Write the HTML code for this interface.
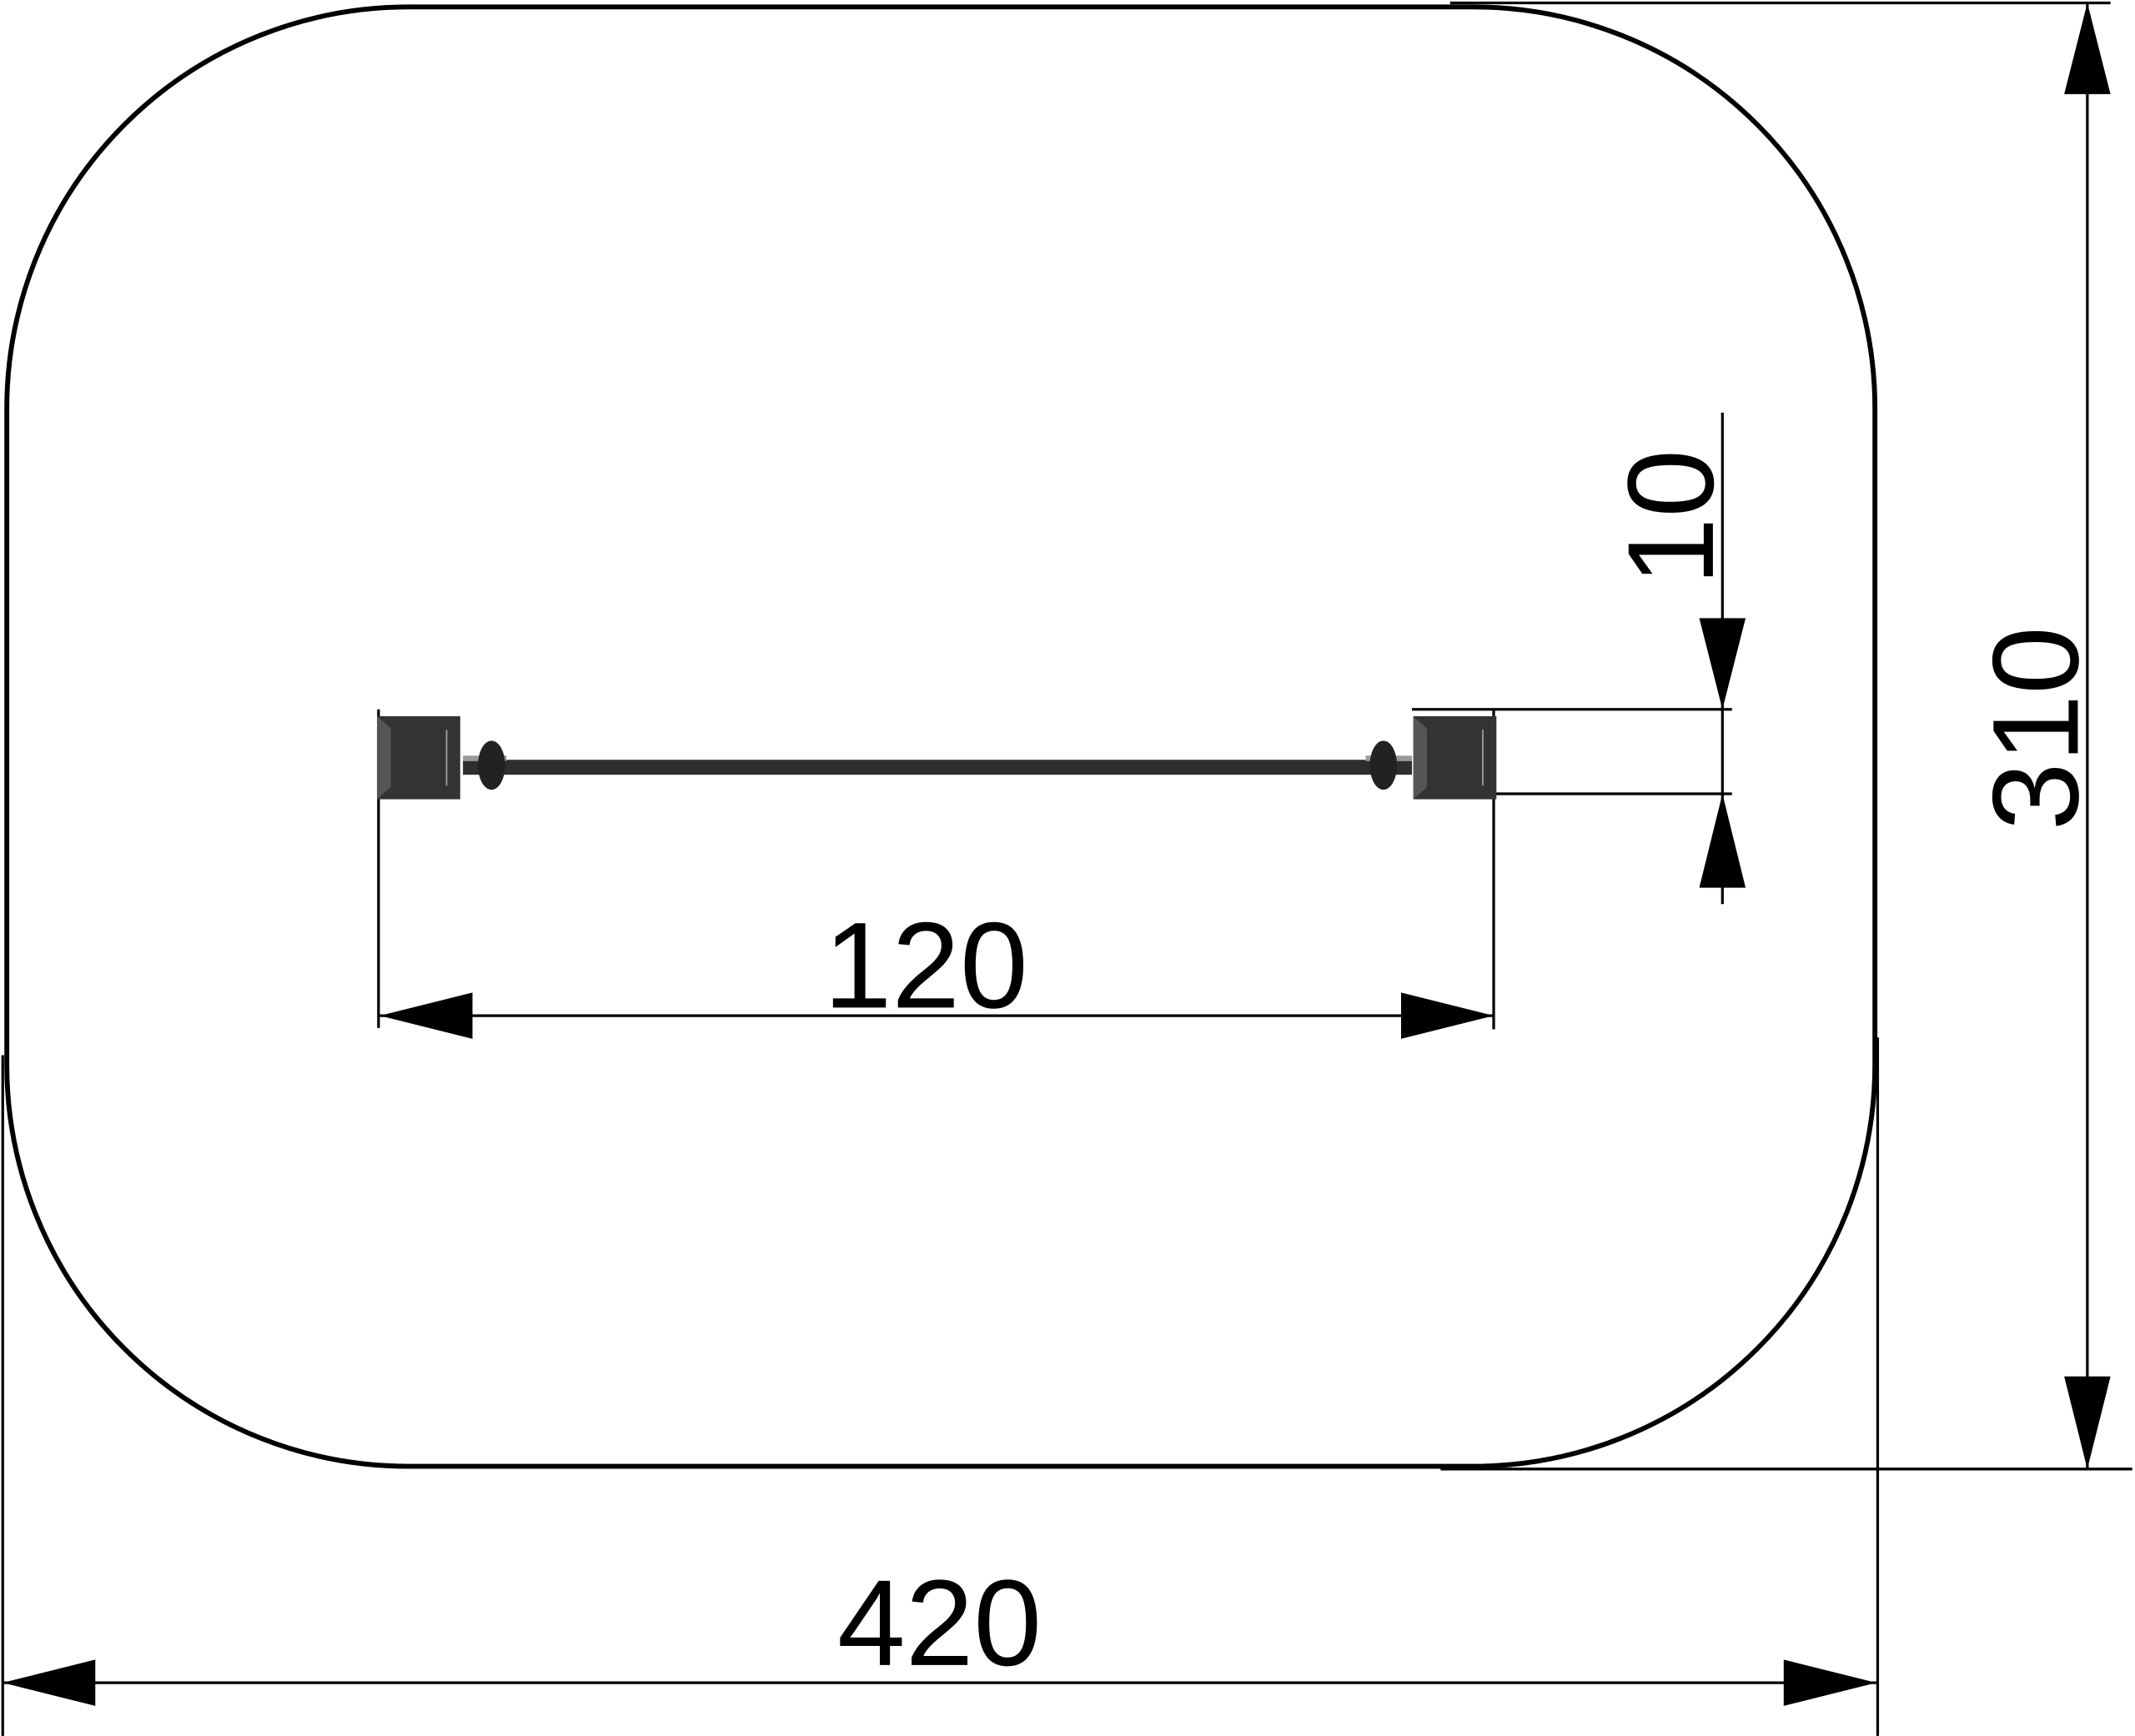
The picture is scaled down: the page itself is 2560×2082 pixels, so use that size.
<!DOCTYPE html>
<html><head><meta charset="utf-8"><style>
html,body{margin:0;padding:0;background:#fff;width:2560px;height:2082px;overflow:hidden}
svg{display:block}
text{font-family:"Liberation Sans",Arial,Helvetica,sans-serif;font-size:90px;fill:#000}
</style></head><body>
<svg width="2560" height="2082" viewBox="0 0 1568 1275" xmlns="http://www.w3.org/2000/svg">
<rect x="5" y="5" width="1372" height="1072" rx="295" ry="295" fill="none" stroke="#000" stroke-width="3.6"/>
<g stroke="#000" stroke-width="2" fill="none">
<line x1="1065" y1="2" x2="1550" y2="2"/>
<line x1="1058" y1="1079" x2="1566" y2="1079"/>
<line x1="1533" y1="2" x2="1533" y2="1079"/>
<line x1="2" y1="775" x2="2" y2="1275"/>
<line x1="1379" y1="762" x2="1379" y2="1275"/>
<line x1="2" y1="1236" x2="1378" y2="1236"/>
<line x1="278" y1="521" x2="278" y2="755"/>
<line x1="1097" y1="521" x2="1097" y2="756"/>
<line x1="279" y1="746" x2="1097" y2="746"/>
<line x1="1265" y1="303" x2="1265" y2="664"/>
<line x1="1037" y1="521" x2="1272" y2="521"/>
<line x1="1097" y1="583" x2="1272" y2="583"/>
</g>
<g fill="#000">
<polygon points="1533,2 1516,69 1550,69"/>
<polygon points="1533,1079 1516,1011 1550,1011"/>
<polygon points="2,1236 70,1219 70,1253"/>
<polygon points="1378,1236 1310,1219 1310,1253"/>
<polygon points="279,746 347,729 347,763"/>
<polygon points="1097,746 1029,729 1029,763"/>
<polygon points="1265,521 1248,454 1282,454"/>
<polygon points="1265,583 1248,652 1282,652"/>
</g>
<text x="680" y="740" text-anchor="middle">120</text>
<text x="690" y="1223" text-anchor="middle">420</text>
<text x="1526" y="535" text-anchor="middle" transform="rotate(-90 1526 535)">310</text>
<text x="1258" y="380" text-anchor="middle" transform="rotate(-90 1258 380)">10</text>
<rect x="340" y="558" width="697" height="11" fill="#2e2e2e"/>
<rect x="340" y="555" width="32" height="4" fill="#999"/>
<rect x="1003" y="555" width="34" height="4" fill="#999"/>
<ellipse cx="361" cy="562" rx="10" ry="18" fill="#222"/>
<ellipse cx="1016" cy="562" rx="10" ry="18" fill="#222"/>
<rect x="277" y="526" width="61" height="61" fill="#333"/>
<polygon points="277,526 287,535 287,578 277,587" fill="#555"/>
<line x1="328" y1="536" x2="328" y2="577" stroke="#aaa" stroke-width="1"/>
<rect x="1038" y="526" width="61" height="61" fill="#333"/>
<polygon points="1038,526 1048,535 1048,578 1038,587" fill="#555"/>
<line x1="1089" y1="536" x2="1089" y2="577" stroke="#aaa" stroke-width="1"/>
</svg>
</body></html>
